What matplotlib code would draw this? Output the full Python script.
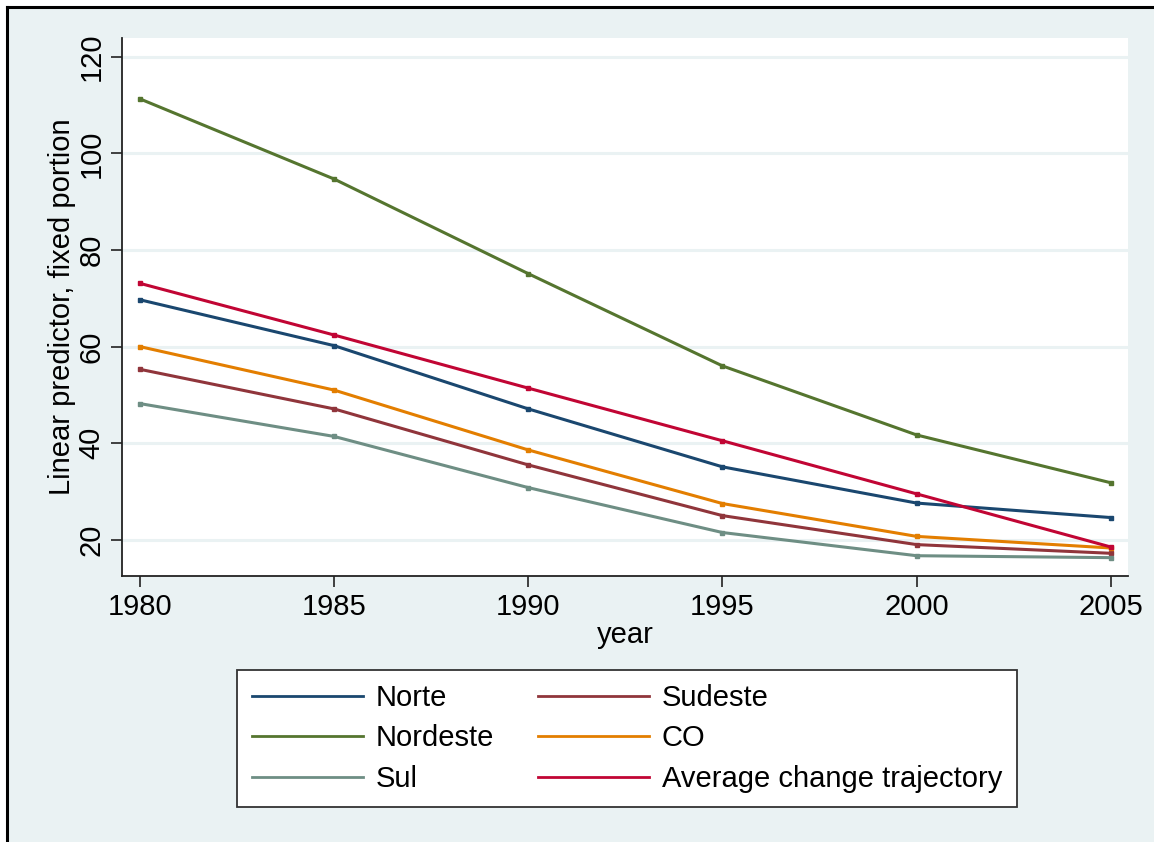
import matplotlib.pyplot as plt
from matplotlib.lines import Line2D

plt.rcParams["font.family"] = ["Liberation Sans", "DejaVu Sans"]

years = [1980, 1985, 1990, 1995, 2000, 2005]
norte = [69.7, 60.2, 47.1, 35.1, 27.6, 24.6]
sudeste = [55.3, 47.1, 35.5, 25.0, 19.0, 17.2]
nordeste = [111.3, 94.7, 75.1, 56.0, 41.7, 31.8]
co = [60.0, 51.0, 38.6, 27.5, 20.7, 18.3]
sul = [48.2, 41.4, 30.8, 21.5, 16.7, 16.3]
average = [73.1, 62.4, 51.4, 40.5, 29.5, 18.5]

series = [
    ("Norte", norte, "#1a476f"),
    ("Sudeste", sudeste, "#90353b"),
    ("Nordeste", nordeste, "#55752f"),
    ("CO", co, "#e37e00"),
    ("Sul", sul, "#6e8e84"),
    ("Average change trajectory", average, "#c10534"),
]

y_ticks = [20, 40, 60, 80, 100, 120]
bg = "#eaf2f3"
fs = 21

fig = plt.figure(figsize=(11.54, 8.42), dpi=100, facecolor=bg)
# white margin outside the frame on the top and left
fx, fy = 7 / 1154, 1 - 7 / 842
fig.add_artist(plt.Rectangle((0, fy), 1, 1 - fy, transform=fig.transFigure,
                             facecolor="white", edgecolor="none", zorder=-5))
fig.add_artist(plt.Rectangle((0, 0), fx, 1, transform=fig.transFigure,
                             facecolor="white", edgecolor="none", zorder=-5))
fig.add_artist(Line2D([fx, 1], [fy, fy], color="black", lw=2.2, zorder=5))
fig.add_artist(Line2D([fx, fx], [0, fy], color="black", lw=2.2, zorder=5))

ax = fig.add_axes([122 / 1154, 1 - 576 / 842, (1128 - 122) / 1154, (576 - 38) / 842])
ax.set_facecolor("white")

lines = {}
for name, vals, color in series:
    (ln,) = ax.plot(years, vals, color=color, lw=2.2, marker="s", ms=2.6,
                    solid_joinstyle="round", label=name, zorder=3)
    lines[name] = ln

ax.set_xlim(1979.54, 2005.44)
ax.set_ylim(12.5, 123.9)
ax.set_xticks(years)
ax.set_yticks(y_ticks)
ax.grid(axis="y", color=bg, lw=2.2, zorder=1)
ax.set_axisbelow(True)

for side in ("top", "right"):
    ax.spines[side].set_visible(False)
for side in ("left", "bottom"):
    ax.spines[side].set_color("#222222")
    ax.spines[side].set_linewidth(1.3)

ax.tick_params(axis="both", length=8, width=1.2, color="#222222", labelsize=fs, pad=4)
plt.setp(ax.get_yticklabels(), rotation=90, va="center")

ax.set_xlabel("year", fontsize=fs, labelpad=0)
ax.set_ylabel("Linear predictor, fixed portion", fontsize=fs, labelpad=1)

order = ["Norte", "Nordeste", "Sul", "Sudeste", "CO", "Average change trajectory"]
leg = fig.legend([lines[n] for n in order], order, ncol=2, loc="center",
                 bbox_to_anchor=(627 / 1154, 1 - 738.5 / 842), fontsize=fs,
                 frameon=True, fancybox=False, edgecolor="#333333",
                 facecolor="white", framealpha=1,
                 handlelength=3.8, handletextpad=0.45, columnspacing=1.5,
                 labelspacing=0.42, borderpad=0.5, borderaxespad=0)
leg.get_frame().set_linewidth(1.3)
for h in leg.get_lines():
    h.set_marker("")
    h.set_linewidth(2.0)

fig.savefig("out.png", dpi=100, facecolor=fig.get_facecolor())
